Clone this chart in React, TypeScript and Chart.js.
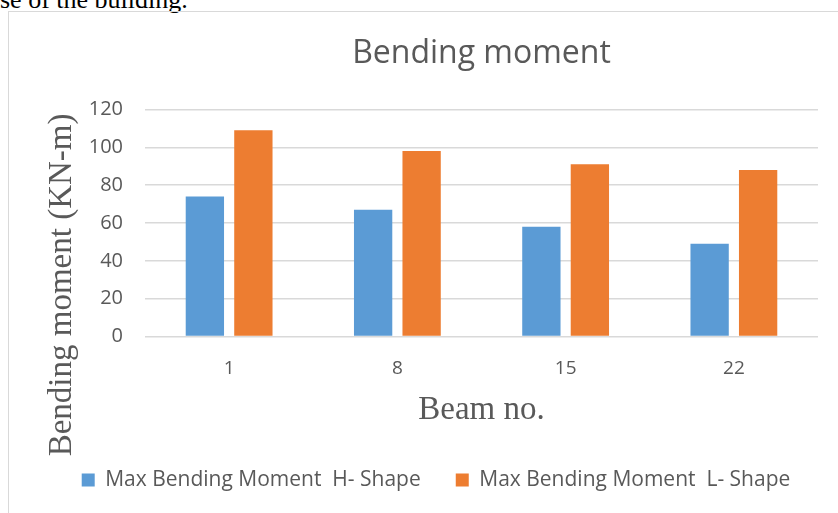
import React, { useEffect, useRef } from "react";
import { Chart, registerables } from "chart.js";

Chart.register(...registerables);

const categories = ["1", "8", "15", "22"];
const hShapeValues = [74, 67, 58, 49];
const lShapeValues = [109, 98, 91, 88];
const seriesNames = ["Max Bending Moment  H- Shape", "Max Bending Moment  L- Shape"];
const chartTitle = "Bending moment";
const xAxisTitle = "Beam no.";
const yAxisTitle = "Bending moment (KN-m)";
const yMin = 0;
const yMax = 120;
const yStep = 20;
const pageFragment = "se of the building.";

const BLUE = "#5B9BD5";
const ORANGE = "#ED7D31";
const TEXT = "#595959";
const GRID = "#d9d9d9";

// Draws the y-axis title (rotated), beside the y axis and a bit below its middle,
// as in the reference.
const yTitlePlugin = {
  id: "yTitleOffset",
  afterDraw(chart: any) {
    const { ctx, chartArea } = chart;
    ctx.save();
    ctx.font = "33px 'Liberation Serif'";
    ctx.fillStyle = TEXT;
    ctx.textAlign = "center";
    ctx.textBaseline = "middle";
    const cx = 62;
    const cy = (chartArea.top + chartArea.bottom) / 2 + 62;
    ctx.translate(cx, cy);
    ctx.rotate(-Math.PI / 2);
    ctx.fillText(yAxisTitle, 0, 0);
    ctx.restore();
  },
};

export default function App() {
  const ref = useRef<HTMLCanvasElement | null>(null);

  useEffect(() => {
    if (!ref.current) return;
    const chart = new Chart(ref.current, {
      type: "bar",
      data: {
        labels: categories,
        datasets: [
          {
            label: seriesNames[0],
            data: hShapeValues,
            backgroundColor: BLUE,
            categoryPercentage: 0.5765,
            barPercentage: 0.79,
          },
          {
            label: seriesNames[1],
            data: lShapeValues,
            backgroundColor: ORANGE,
            categoryPercentage: 0.5765,
            barPercentage: 0.79,
          },
        ],
      },
      plugins: [yTitlePlugin],
      options: {
        responsive: false,
        animation: false,
        layout: { padding: { left: 34, right: 0, top: 0, bottom: 12.5 } },
        plugins: {
          title: {
            display: true,
            text: chartTitle,
            fullSize: false,
            color: TEXT,
            font: { family: "'Open Sans'", size: 32, weight: "normal" },
            padding: { top: 35, bottom: 36 },
          },
          legend: {
            position: "bottom",
            labels: {
              boxWidth: 13,
              boxHeight: 13,
              padding: 35,
              color: TEXT,
              font: { family: "'Open Sans'", size: 21 },
            },
          },
          tooltip: { enabled: false },
        },
        scales: {
          x: {
            grid: { display: false, drawTicks: false },
            border: { display: false },
            ticks: {
              color: TEXT,
              padding: 21,
              font: { family: "'Open Sans'", size: 19 },
            },
            title: {
              display: true,
              text: xAxisTitle,
              color: TEXT,
              font: { family: "'Liberation Serif'", size: 33 },
              padding: { top: 0, bottom: 4 },
            },
            afterFit: (scale: any) => {
              scale.height = 98;
            },
          },
          y: {
            min: yMin,
            max: yMax,
            grid: { color: GRID, lineWidth: 1.5, drawTicks: false },
            border: { display: false },
            ticks: {
              stepSize: yStep,
              color: TEXT,
              padding: 22,
              font: { family: "'Open Sans'", size: 20 },
            },
            title: { display: false },
            afterFit: (scale: any) => {
              scale.width = 111;
            },
          },
          spacer: {
            type: "linear",
            position: "right",
            display: true,
            grid: { display: false, drawTicks: false },
            border: { display: false },
            ticks: { display: false },
            afterFit: (scale: any) => {
              scale.width = 20;
            },
          },
        },
      },
    });
    return () => chart.destroy();
  }, []);

  return (
    <div
      style={{
        position: "fixed",
        left: 0,
        top: 0,
        width: 838,
        height: 513,
        overflow: "hidden",
        background: "#ffffff",
      }}
    >
      <div
        style={{
          position: "absolute",
          left: 0,
          top: -13,
          fontFamily: "'Liberation Serif', serif",
          fontSize: 26,
          lineHeight: 1,
          color: "#000",
          whiteSpace: "nowrap",
        }}
      >
        {pageFragment}
      </div>
      <div
        style={{
          position: "absolute",
          left: 8,
          top: 11,
          width: 900,
          height: 600,
          border: "1px solid #d9d9d9",
        }}
      />
      <canvas
        ref={ref}
        width={838}
        height={513}
        style={{ position: "absolute", left: 0, top: 0, width: 838, height: 513 }}
      />
    </div>
  );
}
